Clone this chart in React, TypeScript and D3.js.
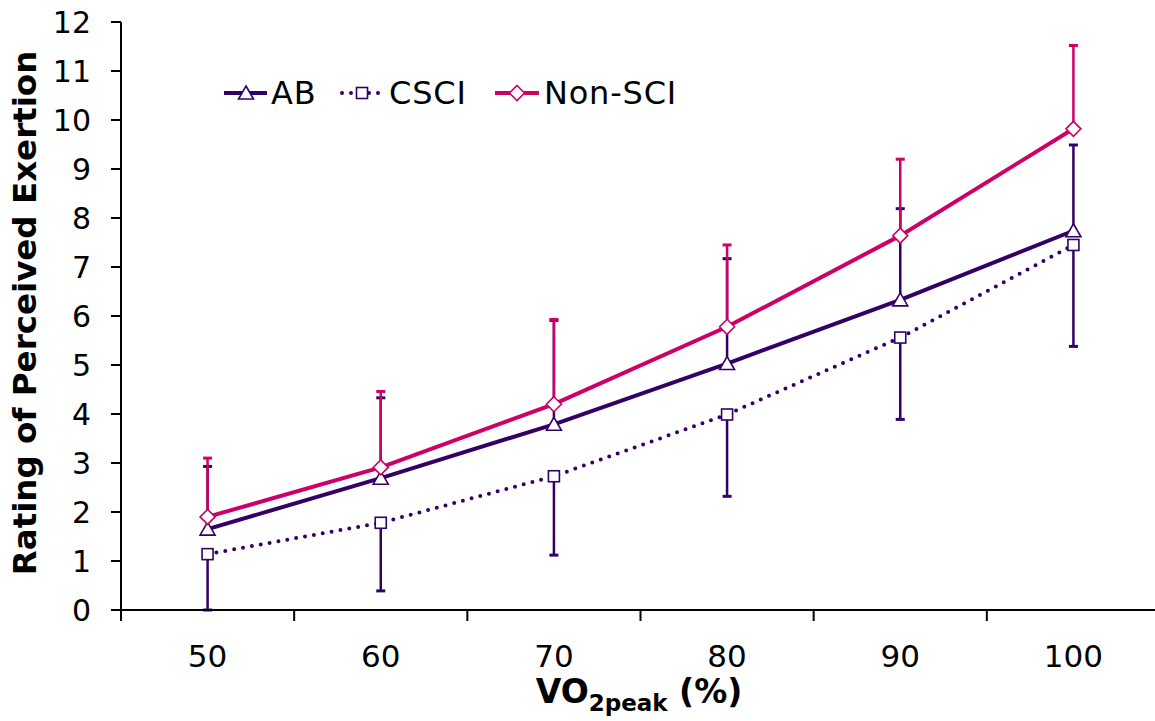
import React from "react";
import * as d3 from "d3";

const categories = [50, 60, 70, 80, 90, 100];
const abMean = [1.65, 2.69, 3.79, 5.03, 6.33, 7.74];
const abSD = [1.28, 1.64, 2.12, 2.14, 1.86, 1.75];
const csciMean = [1.14, 1.78, 2.73, 3.99, 5.56, 7.45];
const csciSD = [1.14, 1.39, 1.61, 1.67, 1.67, 2.07];
const nonMean = [1.9, 2.91, 4.2, 5.78, 7.64, 9.82];
const nonSD = [1.2, 1.55, 1.73, 1.67, 1.56, 1.7];
const yTicks = [0, 1, 2, 3, 4, 5, 6, 7, 8, 9, 10, 11, 12];

const PURPLE = "#330066";
const PINK = "#CC0066";
const FONT = "'DejaVu Sans', Verdana, sans-serif";

const W = 1155;
const H = 721;
const left = 121;
const right = 1160;
const top = 22;
const bottom = 610;

function Triangle({ x, y }: { x: number; y: number }) {
  const p = `M${x},${y - 7} L${x + 7.5},${y + 6} L${x - 7.5},${y + 6} Z`;
  return <path d={p} fill="#fff" stroke={PURPLE} strokeWidth={1.6} />;
}
function Square({ x, y }: { x: number; y: number }) {
  return <rect x={x - 5.5} y={y - 5.5} width={11} height={11} fill="#fff" stroke={PURPLE} strokeWidth={1.6} />;
}
function Diamond({ x, y }: { x: number; y: number }) {
  const p = `M${x},${y - 7.5} L${x + 7.5},${y} L${x},${y + 7.5} L${x - 7.5},${y} Z`;
  return <path d={p} fill="#fff" stroke={PINK} strokeWidth={1.6} />;
}

export default function App() {
  const x = d3.scaleBand<number>().domain(categories).range([left, right]);
  const y = d3.scaleLinear().domain([0, 12]).range([bottom, top]);
  const cx = (c: number) => (x(c) as number) + x.bandwidth() / 2;

  const line = d3
    .line<number>()
    .x((_, i) => cx(categories[i]))
    .y((v) => y(v));

  const boundaries = categories.map((c) => x(c) as number).concat([right]);

  const errBar = (c: number, m: number, e: number, color: string, key: string) => (
    <g key={key}>
      <line x1={cx(c)} x2={cx(c)} y1={y(m)} y2={y(m + e)} stroke={color} strokeWidth={2.5} />
      <line x1={cx(c) - 4.5} x2={cx(c) + 4.5} y1={y(m + e)} y2={y(m + e)} stroke={color} strokeWidth={3} />
    </g>
  );

  return (
    <svg width={W} height={H} style={{ position: "absolute", left: 0, top: 0, background: "#fff" }} fontFamily={FONT}>
      {/* error bars */}
      {categories.map((c, i) => errBar(c, csciMean[i], -csciSD[i], PURPLE, "c" + i))}
      {categories.map((c, i) => errBar(c, abMean[i], abSD[i], PURPLE, "a" + i))}
      {categories.map((c, i) => errBar(c, nonMean[i], nonSD[i], PINK, "n" + i))}

      {/* lines */}
      <path d={line(csciMean) || ""} fill="none" stroke={PURPLE} strokeWidth={4} strokeDasharray="0 9" strokeLinecap="round" />
      <path d={line(abMean) || ""} fill="none" stroke={PURPLE} strokeWidth={4} />
      <path d={line(nonMean) || ""} fill="none" stroke={PINK} strokeWidth={4} />

      {/* markers */}
      {categories.map((c, i) => <Square key={"cs" + i} x={cx(c)} y={y(csciMean[i])} />)}
      {categories.map((c, i) => <Triangle key={"at" + i} x={cx(c)} y={y(abMean[i])} />)}
      {categories.map((c, i) => <Diamond key={"nd" + i} x={cx(c)} y={y(nonMean[i])} />)}

      {/* axes */}
      <line x1={left} x2={W} y1={bottom} y2={bottom} stroke="#000" strokeWidth={2} />
      <line x1={left} x2={left} y1={top} y2={bottom} stroke="#000" strokeWidth={2} />
      {yTicks.map((t) => (
        <g key={"yt" + t}>
          <line x1={left - 10} x2={left} y1={y(t)} y2={y(t)} stroke="#000" strokeWidth={2} />
          <text x={91} y={y(t)} dy="0.36em" textAnchor="end" fontSize={30} fill="#000">
            {t}
          </text>
        </g>
      ))}
      {boundaries.map((b, i) => (
        <line key={"xt" + i} x1={b} x2={b} y1={bottom} y2={bottom + 11} stroke="#000" strokeWidth={2} />
      ))}
      {categories.map((c) => (
        <text key={"xl" + c} x={cx(c)} y={667} textAnchor="middle" fontSize={31} fill="#000">
          {c}
        </text>
      ))}

      {/* axis titles */}
      <text x={639} y={703} textAnchor="middle" fontSize={33} fontWeight="bold" fill="#000">
        VO
        <tspan fontSize={23} dy={8}>2peak</tspan>
        <tspan dy={-8}> (%)</tspan>
      </text>
      <text
        transform={`translate(36, 313) rotate(-90)`}
        textAnchor="middle"
        fontSize={32.5}
        fontWeight="bold"
        fill="#000"
      >
        Rating of Perceived Exertion
      </text>

      {/* legend */}
      <g>
        <line x1={224} x2={267} y1={93} y2={93} stroke={PURPLE} strokeWidth={4} />
        <Triangle x={246} y={93} />
        <text x={271} y={104} fontSize={32} letterSpacing={0.8} fill="#000">AB</text>

        <line x1={342} x2={382} y1={93} y2={93} stroke={PURPLE} strokeWidth={4} strokeDasharray="0 9" strokeLinecap="round" />
        <Square x={362} y={93} />
        <text x={389} y={104} fontSize={32} letterSpacing={0.8} fill="#000">CSCI</text>

        <line x1={495} x2={539} y1={93} y2={93} stroke={PINK} strokeWidth={4} />
        <Diamond x={517} y={93} />
        <text x={544} y={104} fontSize={32} letterSpacing={0.8} fill="#000">Non-SCI</text>
      </g>
    </svg>
  );
}
